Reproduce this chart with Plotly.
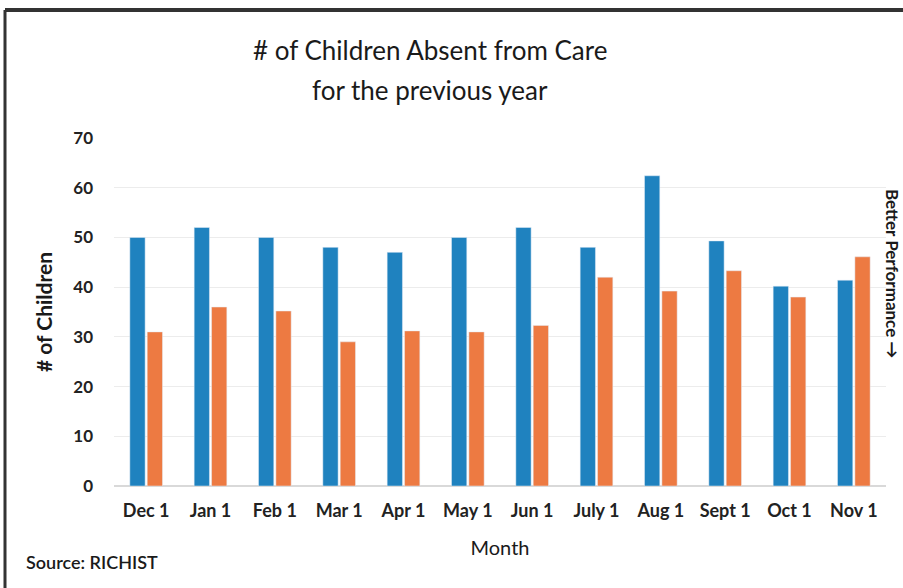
import plotly.graph_objects as go

months = ["Dec 1", "Jan 1", "Feb 1", "Mar 1", "Apr 1", "May 1", "Jun 1",
          "July 1", "Aug 1", "Sept 1", "Oct 1", "Nov 1"]
series_a = [50, 52, 50, 48, 47, 50, 52, 48, 62.4, 49.3, 40.2, 41.4]
series_b = [31, 36, 35.2, 29, 31.2, 31, 32.3, 42, 39.2, 43.3, 38, 46.1]
y_ticks = [0, 10, 20, 30, 40, 50, 60, 70]
title_lines = ["# of Children Absent from Care", "for the previous year"]

FONT = "Lato"
L, R, T, B = 114, 17, 138, 102
PW, PH = 903 - L - R, 588 - T - B

def px(x):
    return (x - L) / PW

def py(y):
    return (588 - B - y) / PH

fig = go.Figure()
fig.add_trace(go.Bar(x=months, y=series_a, marker_color="#1f82bf", name="Previous"))
fig.add_trace(go.Bar(x=months, y=series_b, marker_color="#ed7a42", name="Current"))

fig.update_layout(
    width=903, height=588,
    margin=dict(l=L, r=R, t=T, b=B),
    paper_bgcolor="white", plot_bgcolor="white",
    barmode="group", bargap=0.46, bargroupgap=0.12,
    showlegend=False,
    font=dict(family=FONT, color="#262626"),
    xaxis=dict(showgrid=False, showline=False, ticks="", ticklabelstandoff=12,
               tickfont=dict(family=FONT, size=18, color="#222222", weight="bold"),
               title=dict(text="Month", font=dict(family=FONT, size=20, color="#1a1a1a"), standoff=20)),
    yaxis=dict(range=[0, 70], tickvals=y_ticks, showgrid=True, gridcolor="#ececec",
               zeroline=True, zerolinecolor="#d9d9d9", showline=False, ticks="",
               ticklabelstandoff=20,
               tickfont=dict(family=FONT, size=17, color="#222222", weight="bold"),
               title=dict(text="# of Children", font=dict(family=FONT, size=21, color="#1a1a1a", weight="bold"), standoff=14)),
)

for line, yc in zip(title_lines, [50, 90]):
    fig.add_annotation(text=line, xref="paper", yref="paper", x=px(430), y=py(yc),
                       xanchor="center", yanchor="middle", showarrow=False,
                       font=dict(family=FONT, size=26, color="#1a1a1a"))

fig.add_annotation(text="Source: RICHIST", xref="paper", yref="paper", x=px(24), y=py(562),
                   xanchor="left", yanchor="middle", showarrow=False,
                   font=dict(family=FONT, size=18, color="#1a1a1a", weight=600))
fig.add_annotation(text="Better Performance →", xref="paper", yref="paper", x=px(893), y=py(273),
                   xanchor="center", yanchor="middle", showarrow=False, textangle=90,
                   font=dict(family=FONT, size=17, color="#1a1a1a", weight="bold"))

# frame
fig.add_shape(type="line", xref="paper", yref="paper", x0=px(5), x1=px(903), y0=py(10), y1=py(10),
              line=dict(color="#333333", width=4))
fig.add_shape(type="line", xref="paper", yref="paper", x0=px(5), x1=px(5), y0=py(10), y1=py(588),
              line=dict(color="#333333", width=3))

fig.write_html("out.html")
